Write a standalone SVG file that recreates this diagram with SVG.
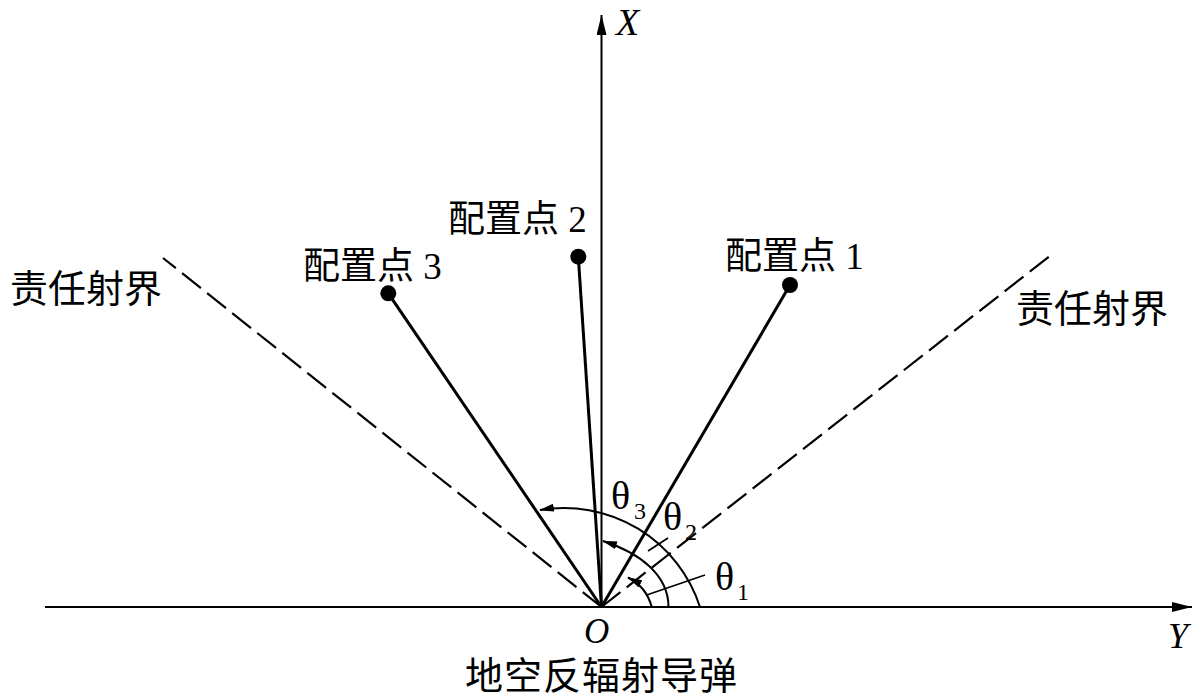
<svg xmlns="http://www.w3.org/2000/svg" width="1200" height="697" viewBox="0 0 1200 697">
<style>
  .ax{stroke:#000;stroke-width:2;fill:none}
  .ray{stroke:#000;stroke-width:3;fill:none}
  .dash{stroke:#000;stroke-width:2.2;fill:none;stroke-dasharray:24 8}
  .arc{stroke:#000;stroke-width:2;fill:none}
  .lead{stroke:#000;stroke-width:1.8;fill:none}
  .cn{font-family:"Liberation Serif","Noto Sans CJK SC",sans-serif;font-size:37px;fill:#000}
  .it{font-family:"Liberation Serif",serif;font-style:italic;fill:#000}
  .th{font-family:"Liberation Serif",serif;font-size:40px;fill:#000}
  .sub{font-family:"Liberation Serif",serif;font-size:24px;fill:#000}
</style>
<defs>
  <marker id="axArrow" markerUnits="userSpaceOnUse" markerWidth="20" markerHeight="10" refX="20" refY="5" orient="auto">
    <path d="M0,0 L20,5 L0,10 Z" fill="#000"/>
  </marker>
  <marker id="arcArrow" markerUnits="userSpaceOnUse" markerWidth="15" markerHeight="8" refX="14" refY="4" orient="auto">
    <path d="M0,0 L15,4 L0,8 Z" fill="#000"/>
  </marker>
</defs>
<rect width="1200" height="697" fill="#fff"/>

<g id="connectors">
  <line class="ax" x1="45" y1="607" x2="1192" y2="607" marker-end="url(#axArrow)"/>
  <line class="ax" x1="601.5" y1="607" x2="601.5" y2="15" marker-end="url(#axArrow)"/>
  <line class="dash" x1="601.5" y1="607" x2="163" y2="258"/>
  <line class="dash" x1="601.5" y1="607" x2="1051" y2="255"/>
  <line class="ray" x1="601.5" y1="607" x2="790" y2="285"/>
  <line class="ray" x1="601.5" y1="607" x2="578.3" y2="256.7"/>
  <line class="ray" x1="601.5" y1="607" x2="388.3" y2="293.3"/>
  <path class="arc" d="M651.7,607 A46,46 0 0 0 628,577.5" marker-end="url(#arcArrow)"/>
  <path class="arc" d="M668.5,607 C668.5,575 640,553 603,541" marker-end="url(#arcArrow)"/>
  <path class="arc" d="M700,607 A143,143 0 0 0 540,510" marker-end="url(#arcArrow)"/>
  <line class="lead" x1="646.7" y1="595" x2="705" y2="575"/>
  <line class="lead" x1="648" y1="551" x2="668" y2="538"/>
</g>

<g id="axis-labels">
  <text class="it" x="616" y="35" font-size="38">X</text>
  <text class="it" x="1168" y="648" font-size="36">Y</text>
</g>

<g id="origin">
  <text class="it" x="584" y="643" font-size="35">O</text>
  <text class="cn" x="465" y="689" style="font-size:38px;letter-spacing:1px">地空反辐射导弹</text>
</g>

<g id="point1">
  <circle cx="790" cy="285" r="8" fill="#000"/>
  <text class="cn" x="725" y="269">配置点 1</text>
</g>
<g id="point2">
  <circle cx="578.3" cy="256.7" r="8" fill="#000"/>
  <text class="cn" x="448" y="232">配置点 2</text>
</g>
<g id="point3">
  <circle cx="388.3" cy="293.3" r="8" fill="#000"/>
  <text class="cn" x="303" y="279">配置点 3</text>
</g>

<g id="boundary-left">
  <text class="cn" x="10" y="302" style="font-size:38px">责任射界</text>
</g>
<g id="boundary-right">
  <text class="cn" x="1016" y="322" style="font-size:38px">责任射界</text>
</g>

<g id="angles">
  <text class="th" x="611" y="509">θ</text>
  <text class="sub" x="634" y="519">3</text>
  <text class="th" x="663" y="530">θ</text>
  <text class="sub" x="685" y="540">2</text>
  <text class="th" x="715" y="590">θ</text>
  <text class="sub" x="737" y="600">1</text>
</g>
</svg>
